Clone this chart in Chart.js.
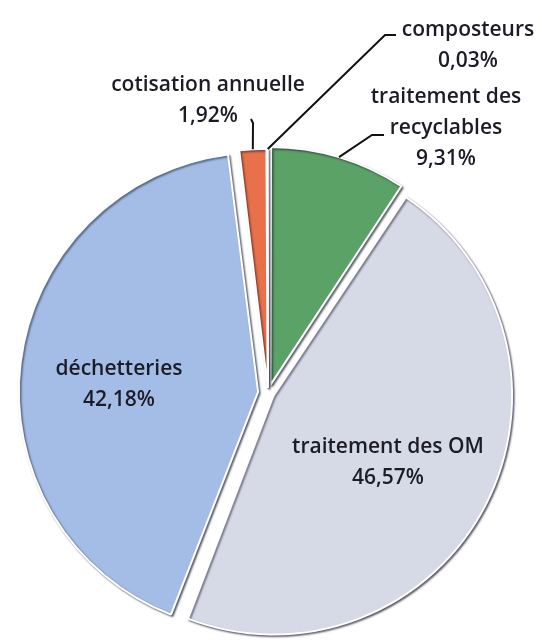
<!DOCTYPE html>
<html><head><meta charset="utf-8">
<script src="https://cdn.jsdelivr.net/npm/chart.js@4.4.0/dist/chart.umd.min.js"></script>
<style>html,body{margin:0;padding:0;background:#fff;}#wrap{width:542px;height:644px;position:relative}</style>
</head><body><div id="wrap"><canvas id="c"></canvas></div>
<script>
// ---- data ----
const categories = ["traitement des recyclables", "traitement des OM", "déchetteries", "cotisation annuelle", "composteurs"];
const shares = [9.31, 46.57, 42.18, 1.92, 0.03];
const valueLabels = ["9,31%", "46,57%", "42,18%", "1,92%", "0,03%"];
const nameLines = [["traitement des", "recyclables"], ["traitement des OM"], ["déchetteries"], ["cotisation annuelle"], ["composteurs"]];

// ---- styling / layout ----
const colors = ["#5ba267", "#d6d9e6", "#a4bde6", "#e8704a", "#86d0e2"];
const offsets = [34, 24, 40, 22, 20];
const TXT = "#1c1c26";
const FONT = "600 21px 'Open Sans', 'Noto Sans', sans-serif";
const LH = 31;
// label placement: text centre; outside labels also get a leader elbow
const labelPlace = [
  {tx: 446, ty: 97, leader: true, elbow: [372, 135], stub: [384, 135]},
  {tx: 388, ty: 447},
  {tx: 119, ty: 369},
  {tx: 208, ty: 85, leader: true, elbow: [253, 123], stub: [251, 119]},
  {tx: 468, ty: 30, leader: true, elbow: [385, 35], stub: [396, 35]}
];

function effOffset(el) {
  const off = (el.options.offset || 0) / 4;
  const circ = el.endAngle - el.startAngle;
  const fix = 1 - Math.sin(Math.min(Math.PI, circ || 0));
  return off * (1 + fix);
}

const shadowPlugin = {
  id: 'shadow',
  beforeDatasetsDraw(chart) {
    const ctx = chart.ctx; ctx.save();
    ctx.shadowColor = 'rgba(20,20,40,0.6)'; ctx.shadowBlur = 2; ctx.shadowOffsetX = 1.5; ctx.shadowOffsetY = 1.5;
  },
  afterDatasetsDraw(chart) { chart.ctx.restore(); }
};

const labelPlugin = {
  id: 'labels',
  afterDraw(chart) {
    const ctx = chart.ctx;
    const meta = chart.getDatasetMeta(0);
    ctx.save();
    ctx.font = FONT; ctx.fillStyle = TXT; ctx.textAlign = 'center'; ctx.textBaseline = 'middle';
    meta.data.forEach((el, i) => {
      const p = labelPlace[i];
      const lines = nameLines[i].concat([valueLabels[i]]);
      lines.forEach((t, k) => ctx.fillText(t, p.tx, p.ty + k * LH));
      if (p.leader) {
        const mid = (el.startAngle + el.endAngle) / 2;
        const r = effOffset(el) + el.outerRadius;
        const ex = el.x + Math.cos(mid) * r, ey = el.y + Math.sin(mid) * r;
        ctx.beginPath(); ctx.strokeStyle = '#111'; ctx.lineWidth = 2;
        ctx.moveTo(ex, ey); ctx.lineTo(p.elbow[0], p.elbow[1]); ctx.lineTo(p.stub[0], p.stub[1]); ctx.stroke();
      }
    });
    ctx.restore();
  }
};

new Chart(document.getElementById('c'), {
  type: 'pie',
  data: {
    labels: categories,
    datasets: [{
      data: shares,
      backgroundColor: colors,
      borderColor: '#ffffff',
      borderWidth: 2,
      offset: offsets
    }]
  },
  options: {
    responsive: true, maintainAspectRatio: false, animation: false,
    radius: 234,
    layout: {padding: {top: 142, bottom: 0, left: 0, right: 6}},
    plugins: {legend: {display: false}, tooltip: {enabled: false}}
  },
  plugins: [shadowPlugin, labelPlugin]
});
</script></body></html>
